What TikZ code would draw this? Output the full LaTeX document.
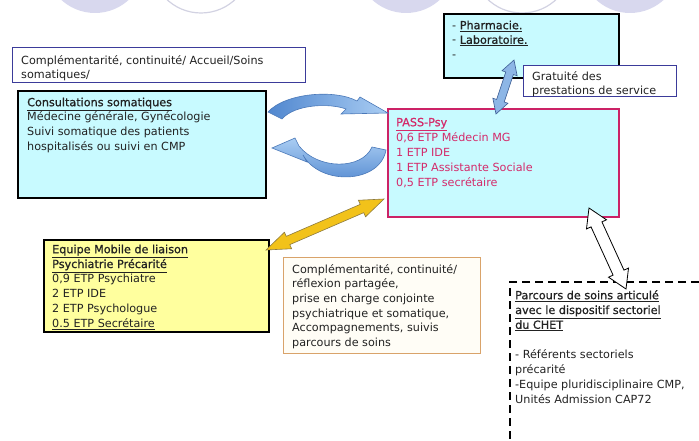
\documentclass[tikz,border=0pt]{standalone}
\usepackage{fontspec}
\setmainfont{DejaVu Sans}
\newfontfamily\tbf[FakeBold=1.0]{DejaVu Sans}
\usetikzlibrary{calc}
\definecolor{cyanfill}{HTML}{C8FAFF}
\definecolor{yelfill}{HTML}{FFFF9E}
\definecolor{magb}{HTML}{CC2266}
\definecolor{magt}{HTML}{D42B6B}
\definecolor{navyb}{HTML}{3B3B9A}
\definecolor{orgb}{HTML}{D9A36A}
\definecolor{orgfill}{HTML}{FFFDF6}
\definecolor{lavc}{HTML}{D8D8EE}
\definecolor{cbord}{HTML}{D2D2E2}
\definecolor{txtc}{HTML}{222222}
\definecolor{bluea}{HTML}{5087CF}
\definecolor{blueb}{HTML}{AACDF3}
\definecolor{bluel}{HTML}{4A78B8}
\definecolor{dblfill}{HTML}{8DB6E6}
\definecolor{dbldraw}{HTML}{3F5F95}
\definecolor{goldf}{HTML}{F2C21A}
\definecolor{goldd}{HTML}{8C7A40}
\newcommand{\ftx}{\fontsize{11.2}{14.6}\selectfont}
\newcommand{\tit}[1]{{\tbf\underline{#1}}}
\newcommand{\blockdbl}[6]{%
  \path ($(#2)!#4!(#3)$) coordinate (hA) ($(#3)!#4!(#2)$) coordinate (hB);
  \draw[#1] (#2) -- ($(hA)!#5!90:(#3)$) -- ($(hA)!#6!90:(#3)$) -- ($(hB)!#6!-90:(#2)$) -- ($(hB)!#5!-90:(#2)$) -- (#3) -- ($(hB)!#5!90:(#2)$) -- ($(hB)!#6!90:(#2)$) -- ($(hA)!#6!-90:(#3)$) -- ($(hA)!#5!-90:(#3)$) -- cycle;}
\tikzset{
  txt/.style={anchor=north west, align=left, inner sep=0pt, font=\ftx, text=txtc},
  boxk/.style={draw=black, line width=1.6pt, fill=cyanfill, anchor=north west, inner sep=0pt},
  boxn/.style={draw=navyb, line width=1.1pt, fill=white, anchor=north west, inner sep=0pt},
  circl/.style={fill=lavc},
  circw/.style={fill=white, draw=cbord, line width=1.2pt},
  curvarrow/.style={draw=bluel, line width=0.6pt},
}
\begin{document}
\begin{tikzpicture}[x=1pt,y=-1pt]
\useasboundingbox (0,0) rectangle (699,441);
% top circles
\fill[circl] (95,-37) circle[radius=50pt];
\draw[circw] (201,-37) circle[radius=50pt];
\fill[circl] (406,-37) circle[radius=50pt];
\draw[circw] (522,-37) circle[radius=50pt];
\fill[circl] (630,-37) circle[radius=50pt];

% boxes
\node[boxn, minimum width=293pt, minimum height=35pt] (acc) at (12,47) {};
\node[boxk, minimum width=248pt, minimum height=107pt] (cons) at (17,90) {};
\node[boxk, minimum width=175pt, minimum height=64pt] (phar) at (443,13) {};
\node[boxn, minimum width=153pt, minimum height=31pt] (grat) at (523,65) {};
\node[draw=magb, line width=1.6pt, fill=cyanfill, anchor=north west, inner sep=0pt, minimum width=231pt, minimum height=108pt] (pass) at (387,108) {};
\node[draw=black, line width=1.6pt, fill=yelfill, anchor=north west, inner sep=0pt, minimum width=225pt, minimum height=92pt] (emp) at (43,239) {};
\node[draw=orgb, line width=1.1pt, fill=orgfill, anchor=north west, inner sep=0pt, minimum width=197pt, minimum height=96pt] (comp) at (283,257) {};
\coordinate (dbTR) at (699,282);
\coordinate (dbTL) at (510,282);
\coordinate (dbBL) at (510,441);
\draw[black, line width=1.6pt, dash pattern=on 8pt off 5pt] (dbTR) -- (dbTL) -- (dbBL);

% texts
\node[txt] (tacc) at (21,53) {\rule{0pt}{11pt}Complémentarité, continuité/ Accueil/Soins\\somatiques/};
\node[txt] (tcons) at (27,95) {\rule{0pt}{11pt}\tit{Consultations somatiques}\\Médecine générale, Gynécologie\\Suivi somatique des patients\\hospitalisés ou suivi en CMP};
\node[txt] (tphar) at (452,18) {\rule{0pt}{11pt}- \tit{Pharmacie.}\\- \tit{Laboratoire.}\\-};
\node[txt] (tgrat) at (532,69) {\rule{0pt}{11pt}Gratuité des\\prestations de service};
\node[txt, text=magt, font=\fontsize{11.2}{15}\selectfont] (tpass) at (396,115) {\rule{0pt}{11pt}\tit{PASS-Psy}\\0,6 ETP Médecin MG\\1 ETP IDE\\1 ETP Assistante Sociale\\0,5 ETP secrétaire};
\node[txt, font=\fontsize{11.2}{14.8}\selectfont] (temp) at (52,242) {\rule{0pt}{11pt}\tit{Equipe Mobile de liaison}\\\tit{Psychiatrie Précarité}\\0,9 ETP Psychiatre\\2 ETP IDE\\2 ETP Psychologue\\\underline{0.5 ETP Secrétaire}};
\node[txt] (tcomp) at (292,262) {\rule{0pt}{11pt}Complémentarité, continuité/\\réflexion partagée,\\prise en charge conjointe\\psychiatrique et somatique,\\Accompagnements, suivis\\parcours de soins};
\node[txt, font=\fontsize{11.2}{14.8}\selectfont] (tparc) at (515,288) {\rule{0pt}{11pt}\tit{Parcours de soins articulé}\\\tit{avec le dispositif sectoriel}\\\tit{du CHET}\\[15pt]- Référents sectoriels\\précarité\\-Equipe pluridisciplinaire CMP,\\Unités Admission CAP72};

% curved blue arrows
\shadedraw[curvarrow, left color=bluea, right color=blueb]
  (268,112) .. controls (285,93) and (335,89) .. (357,101) -- (360,97) -- (388,113) -- (341,114) -- (346,109)
  .. controls (330,103) and (295,104) .. (282,119) -- cycle;
\shadedraw[curvarrow, top color=blueb, bottom color=bluea]
  (386,150) .. controls (380,184) and (320,186) .. (303,155) -- (307,162) -- (272,148) -- (295,138) -- (299,146)
  .. controls (318,170) and (362,170) .. (372,147) -- cycle;

% double block arrows
\coordinate (blA) at (514,60);
\coordinate (blB) at (496,114);
\blockdbl{fill=dblfill, draw=dbldraw, line width=0.6pt}{blA}{blB}{14pt}{8pt}{4pt}
\coordinate (ylA) at (266,250);
\coordinate (ylB) at (384,199);
\blockdbl{fill=goldf, draw=goldd, line width=0.6pt}{ylA}{ylB}{24pt}{9pt}{4.5pt}
\coordinate (whA) at (589,208);
\coordinate (whB) at (626,289);
\blockdbl{fill=white, draw=black, line width=0.8pt}{whA}{whB}{18pt}{11pt}{6pt}
\end{tikzpicture}
\end{document}
